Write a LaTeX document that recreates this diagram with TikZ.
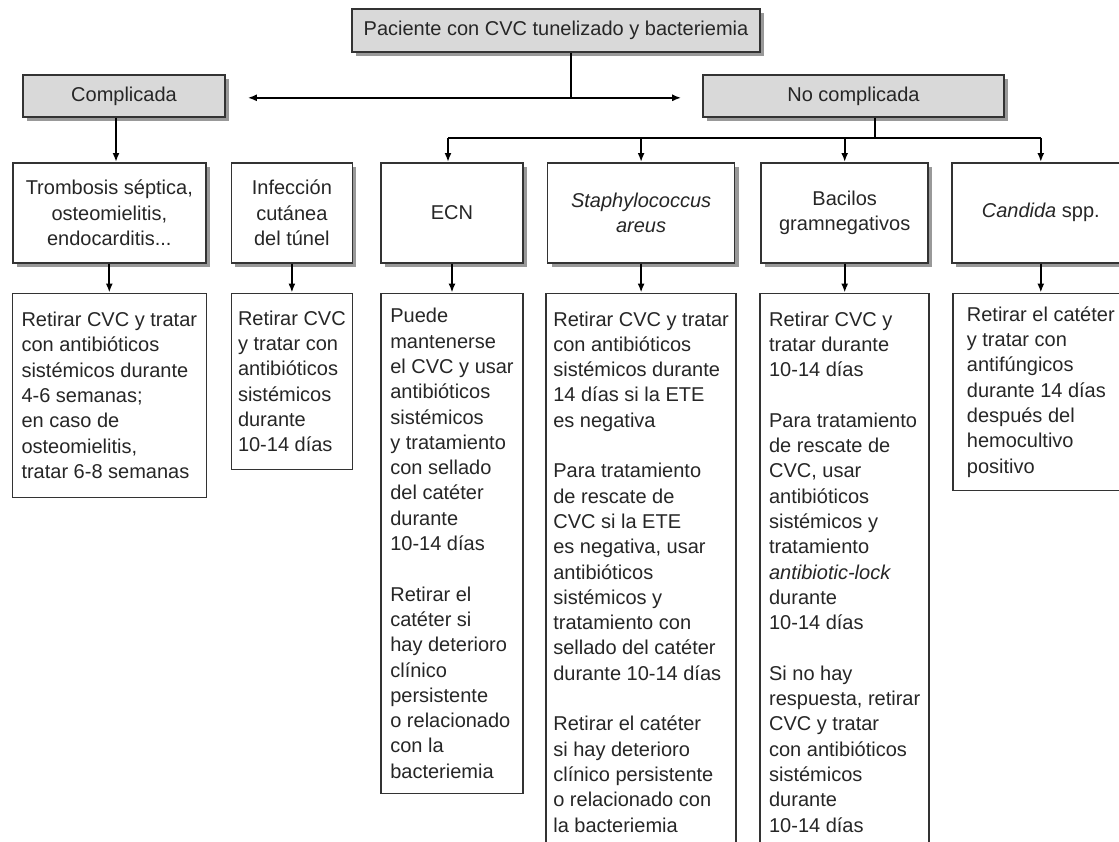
\documentclass[tikz,border=0pt]{standalone}
\usepackage{fontspec}
\setmainfont{Liberation Sans}
\usepackage{tikz}
\usetikzlibrary{positioning,arrows.meta,shadows}

\begin{document}
\begin{tikzpicture}[
    x=0.5pt, y=-0.5pt,
    font=\fontsize{10pt}{12.65pt}\selectfont,
    text=black!85,
    boxshadow/.style={drop shadow={shadow xshift=2pt, shadow yshift=-2pt,
                      fill=black, opacity=0.4}},
    % --- grey heading boxes (patient, branches) ---
    head/.style={draw=black!80, thick, fill=black!15, inner sep=2pt,
                 minimum height=21pt, boxshadow},
    % --- situation / germ box ---
    germ/.style={draw=black!80, thick, fill=white, align=center, inner sep=2pt,
                 minimum height=50pt, boxshadow},
    % --- treatment box ---
    plan/.style={draw=black!80, thick, fill=white, align=left, inner sep=2pt},
    link/.style={black, line width=1pt},
    flow/.style={-{Latex[length=4.5pt,width=3.5pt]}, black, line width=1pt},
  ]

  \fill[white] (0,0) rectangle (1119,841);
  \useasboundingbox (0,0) rectangle (1119,841);
  \clip (0,0) rectangle (1119,841);

  % ---- PATIENT and the two branches ---------------------------------------
  \node[head, minimum width=204pt, minimum height=21.5pt] (paciente) at (556,30.5)
        {Paciente con CVC tunelizado y bacteriemia};
  \node[head, minimum width=101pt] (compl) at (124,96) {Complicada};
  \node[head, minimum width=150.5pt] (nocompl) at (853.5,96) {No complicada};

  \draw[link] ([xshift=7.5pt]paciente.south) -- ++(0,-22.5pt) coordinate (split);
  \draw[flow] (split) -- ([xshift=11pt]compl.east |- split);
  \draw[flow] (split) -- ([xshift=-10.5pt]nocompl.west |- split);

  % ---- SITUATIONS / GERMS -------------------------------------------------
  \node[germ, minimum width=96.5pt, anchor=north west] (trombosis) at (12,162)
        {Trombosis séptica,\\osteomielitis,\\endocarditis...};
  \node[germ, minimum width=60.5pt, right=12pt of trombosis] (tunel)
        {Infección\\cutánea\\del túnel};
  \node[germ, minimum width=71pt, right=13.5pt of tunel] (ecn) {ECN};
  \node[germ, minimum width=93.5pt, right=11.5pt of ecn] (saureus)
        {\textit{Staphylococcus}\\\textit{areus}};
  \node[germ, minimum width=83.5pt, right=12.5pt of saureus] (bgn)
        {Bacilos\\gramnegativos};
  \node[germ, minimum width=89pt, right=11pt of bgn] (candida)
        {\textit{Candida} spp.};

  \draw[flow] ([xshift=-4pt]compl.south) -- ([xshift=-4pt]compl.south |- trombosis.north);

  % bus under "No complicada"
  \draw[link] ([xshift=10.5pt]nocompl.south) -- ++(0,-10pt) coordinate (bus);
  \draw[link] ([xshift=-2pt]ecn.north |- bus) -- (candida.north |- bus);
  \draw[flow] ([xshift=-2pt]ecn.north |- bus) -- ([xshift=-2pt]ecn.north);
  \foreach \g in {saureus,bgn,candida}
    \draw[flow] (\g.north |- bus) -- (\g.north);

  % ---- TREATMENTS ---------------------------------------------------------
  \node[plan, minimum width=97pt, minimum height=102pt, below=14.5pt of trombosis]
        (rtromb)
        {Retirar CVC y tratar\\con antibióticos\\sistémicos durante\\4-6 semanas;\\
         en caso de\\osteomielitis,\\tratar 6-8 semanas};
  \node[plan, minimum width=60.5pt, minimum height=88pt, below=14.5pt of tunel]
        (rtunel)
        {Retirar CVC\\y tratar con\\antibióticos\\sistémicos\\durante\\10-14 días};
  \node[plan, minimum width=71pt, minimum height=250pt, below=14.5pt of ecn]
        (recn)
        {Puede\\mantenerse\\el CVC y usar\\antibióticos\\sistémicos\\y tratamiento\\
         con sellado\\del catéter\\durante\\10-14 días\\[12.65pt]
         Retirar el\\catéter si\\hay deterioro\\clínico\\persistente\\
         o relacionado\\con la\\bacteriemia};
  \node[plan, minimum width=95pt, minimum height=278.5pt, below=14.5pt of saureus]
        (rsa)
        {Retirar CVC y tratar\\con antibióticos\\sistémicos durante\\
         14 días si la ETE\\es negativa\\[12.65pt]
         Para tratamiento\\de rescate de\\CVC si la ETE\\es negativa, usar\\
         antibióticos\\sistémicos y\\tratamiento con\\sellado del catéter\\
         durante 10-14 días\\[12.65pt]
         Retirar el catéter\\si hay deterioro\\clínico persistente\\
         o relacionado con\\la bacteriemia};
  \node[plan, minimum width=84.5pt, minimum height=278.5pt, below=14.5pt of bgn]
        (rbgn)
        {Retirar CVC y\\tratar durante\\10-14 días\\[12.65pt]
         Para tratamiento\\de rescate de\\CVC, usar\\antibióticos\\sistémicos y\\
         tratamiento\\\textit{antibiotic-lock}\\durante\\10-14 días\\[12.65pt]
         Si no hay\\respuesta, retirar\\CVC y tratar\\con antibióticos\\
         sistémicos\\durante\\10-14 días};
  \node[plan, minimum width=88pt, minimum height=98.5pt, below=14.5pt of candida]
        (rcand)
        {Retirar el catéter\\y tratar con\\antifúngicos\\durante 14 días\\
         después del\\hemocultivo\\positivo};

  \foreach \g/\r in {trombosis/rtromb, tunel/rtunel, ecn/recn,
                     saureus/rsa, bgn/rbgn, candida/rcand}
    \draw[flow] (\g.south) -- (\r.north);

\end{tikzpicture}
\end{document}
